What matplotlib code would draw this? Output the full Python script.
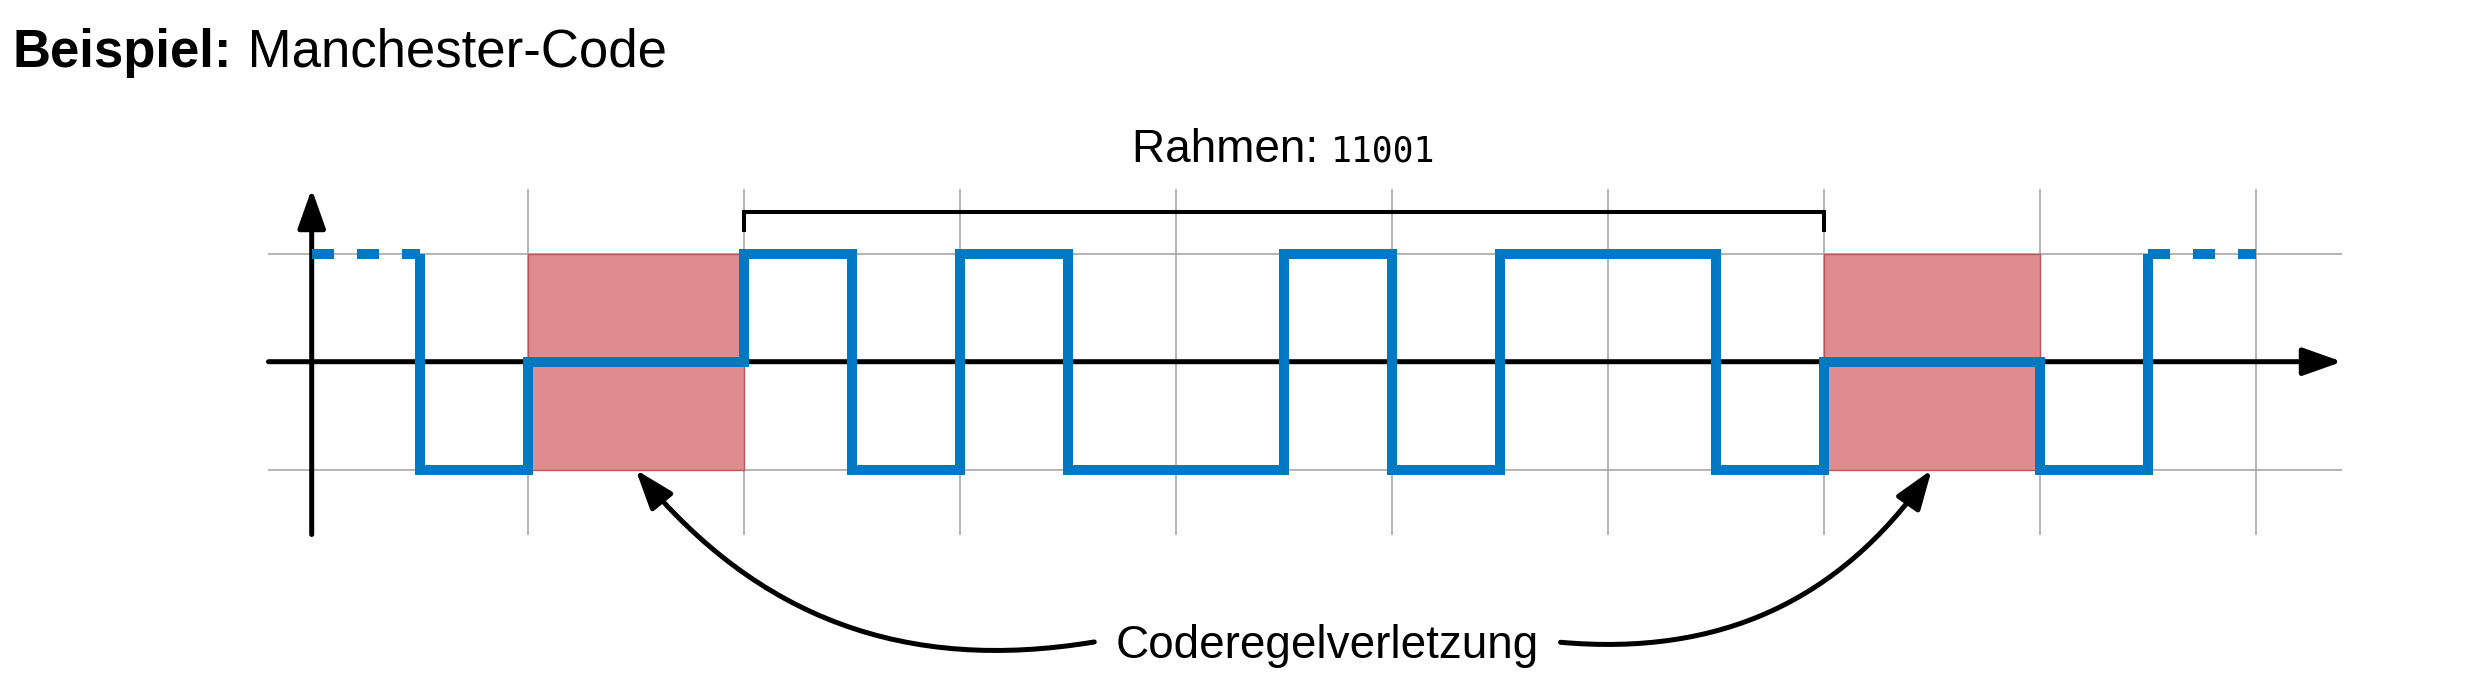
import numpy as np
import matplotlib
matplotlib.use('Agg')
import matplotlib.pyplot as plt
from matplotlib.patches import Rectangle, FancyArrowPatch
from matplotlib.path import Path

# signal level per half bit, from t = 0 to t = 9 (first and last are drawn dashed)
half_levels = [1, -1, 0, 0, 1, -1, 1, -1, -1, 1, -1, 1, 1, -1, 0, 0, -1, 1]
half_step = 0.5
frame_bits = '11001'
frame_start, frame_end = 2, 7
violations = [1, 7]            # bit cells with a code rule violation
grid_x = [1, 2, 3, 4, 5, 6, 7, 8, 9]
grid_y = [-1, 1]
arrow_targets = [1.5, 7.5]

BLUE = '#0079c2'
RED_FILL = '#e08c8e'
RED_EDGE = '#b9575d'
GRID = '#a8a8a8'
SANS = ['Liberation Sans', 'DejaVu Sans']
MONO = ['DejaVu Sans Mono']

W, H, DPI = 2491, 685, 100
X0, UX = 311.7, 216.0   # pixel of t = 0 and pixels per bit
Y0, UY = 361.7, 108.0   # pixel row (from top) of level 0 and pixels per level

fig = plt.figure(figsize=(W / DPI, H / DPI), dpi=DPI)
ax = fig.add_axes([0, 0, 1, 1])
ax.set_xlim(-X0 / UX, (W - X0) / UX)
ax.set_ylim(-(H - Y0) / UY, Y0 / UY)
ax.axis('off')
r = fig.canvas.get_renderer()

# grid
ax.vlines(grid_x, -1.6, 1.6, color=GRID, lw=1.2, zorder=1)
ax.hlines(grid_y, -0.2, 9.4, color=GRID, lw=1.2, zorder=1)

# violation cells
for v in violations:
    ax.add_patch(Rectangle((v, -1), 1, 2, fc=RED_FILL, ec=RED_EDGE, lw=1.0, zorder=2))

# axes with arrow heads
head = '-|>,head_length=24,head_width=8.5'
ax.add_patch(FancyArrowPatch((-0.2, 0), (9.4, 0), arrowstyle=head, mutation_scale=1,
                             lw=3.6, color='k', shrinkA=0, shrinkB=0, zorder=3))
ax.add_patch(FancyArrowPatch((0, -1.6), (0, 1.6), arrowstyle=head, mutation_scale=1,
                             lw=3.6, color='k', shrinkA=0, shrinkB=0, zorder=3))

# signal
lv = np.array(half_levels)
edges = np.arange(len(lv) + 1) * half_step
xs, ys = [edges[1]], [lv[0]]
for i in range(1, len(lv) - 1):
    xs += [edges[i], edges[i + 1]]
    ys += [lv[i], lv[i]]
xs.append(edges[-2])
ys.append(lv[-1])
ax.plot(xs, ys, color=BLUE, lw=7.2, solid_joinstyle='miter', solid_capstyle='butt', zorder=4)
dash = (0, (2.2, 2.3))
ax.plot(edges[:2], [lv[0]] * 2, color=BLUE, lw=7.2, ls=dash, zorder=4)
ax.plot(edges[-2:], [lv[-1]] * 2, color=BLUE, lw=7.2, ls=dash, zorder=4)

# frame bracket
ax.plot([frame_start, frame_start, frame_end, frame_end], [1.2, 1.39, 1.39, 1.2],
        color='k', lw=2.9, solid_joinstyle='miter', solid_capstyle='butt', zorder=3)
t1 = ax.text(0, 1.852, 'Rahmen: ', family=SANS, fontsize=33, va='baseline')
t2 = ax.text(0, 1.852, frame_bits, family=MONO, fontsize=25, va='baseline')
w1 = t1.get_window_extent(r).width
w2 = t2.get_window_extent(r).width
cx = ax.transData.transform(((frame_start + frame_end) / 2, 0))[0]
inv = ax.transData.inverted()
t1.set_x(inv.transform((cx - (w1 + w2) / 2, 0))[0])
t2.set_x(inv.transform((cx - (w1 + w2) / 2 + w1, 0))[0])

# label with curved arrows
lab = ax.text(4.70, -2.743, 'Coderegelverletzung', family=SANS, fontsize=33,
              ha='center', va='baseline')
bb = lab.get_window_extent(r)
left_start = inv.transform((bb.x0 - 21, 0))[0], -2.595
right_start = inv.transform((bb.x1 + 22, 0))[0], -2.598


def bent(p0, p3, bend):
    a = ax.transData.transform(p0)
    b = ax.transData.transform(p3)
    d = b - a
    dist = np.hypot(*d)
    ang = np.arctan2(d[1], d[0])
    out = ang + np.radians(bend)
    inn = ang + np.pi - np.radians(bend)
    c1 = a + 0.3915 * dist * np.array([np.cos(out), np.sin(out)])
    c2 = b + 0.3915 * dist * np.array([np.cos(inn), np.sin(inn)])
    pts = inv.transform([a, c1, c2, b])
    return Path(pts, [Path.MOVETO, Path.CURVE4, Path.CURVE4, Path.CURVE4])


for start, tx, bend in [(left_start, arrow_targets[0], 30), (right_start, arrow_targets[1], -30)]:
    ax.add_patch(FancyArrowPatch(path=bent(start, (tx, -1), bend), arrowstyle=head,
                                 mutation_scale=1, lw=3.6, color='k', zorder=5))

# title
h1 = fig.text(13 / W, 1 - 66.7 / H, 'Beispiel:', family=SANS, fontsize=38,
              weight='bold', va='baseline')
hw = h1.get_window_extent(r).width
fig.text((13 + hw) / W, 1 - 66.7 / H, ' Manchester-Code', family=SANS, fontsize=38,
         va='baseline')

fig.savefig('out.png', dpi=DPI)
